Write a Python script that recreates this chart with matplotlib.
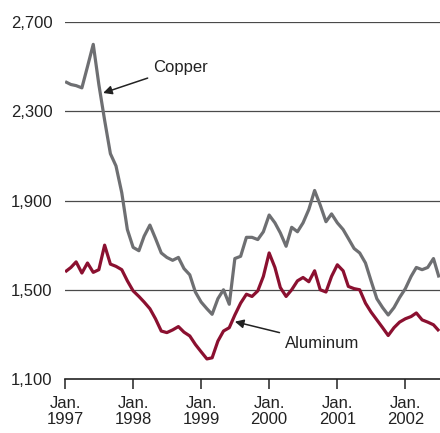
import matplotlib
matplotlib.use("Agg")
import matplotlib.pyplot as plt
import pandas as pd

# Monthly metal prices, Jan. 1997 - Jul. 2002
months = pd.date_range("1997-01-01", periods=67, freq="MS")

copper = [2433, 2420, 2415, 2405, 2500, 2600, 2420, 2260, 2110, 2055,
          1935, 1770, 1690, 1675, 1740, 1790, 1730, 1665, 1645, 1632,
          1645, 1595, 1567, 1490, 1445, 1415, 1390, 1460, 1500, 1435,
          1640, 1650, 1735, 1735, 1725, 1760, 1835, 1800, 1755, 1695,
          1780, 1760, 1800, 1860, 1945, 1880, 1805, 1840, 1800, 1770,
          1730, 1685, 1665, 1620, 1540, 1460, 1420, 1387, 1420, 1465,
          1505, 1560, 1600, 1590, 1600, 1640, 1555]

aluminum = [1580, 1600, 1625, 1575, 1620, 1578, 1590, 1700, 1615, 1605,
            1590, 1540, 1495, 1470, 1445, 1415, 1370, 1315, 1308, 1320,
            1335, 1310, 1293, 1255, 1222, 1190, 1195, 1270, 1315, 1330,
            1387, 1440, 1480, 1470, 1495, 1560, 1665, 1600, 1510, 1470,
            1500, 1540, 1555, 1536, 1585, 1500, 1490, 1560, 1612, 1585,
            1515, 1505, 1500, 1440, 1400, 1365, 1330, 1295, 1330, 1355,
            1370, 1380, 1396, 1365, 1355, 1343, 1315]

years = [1997, 1998, 1999, 2000, 2001, 2002]
y_ticks = [1100, 1500, 1900, 2300, 2700]

plt.rcParams["font.family"] = ["Liberation Sans", "DejaVu Sans"]

fig = plt.figure(figsize=(4.4, 4.33), dpi=100)
ax = fig.add_axes([0.148, 0.1247, 0.852, 0.8244])

copper_color = "#6e6f72"
aluminum_color = "#8b1030"

for v in y_ticks[1:]:
    ax.axhline(v, color="#4a4a4a", lw=0.9, zorder=1)

ax.plot(months, copper, color=copper_color, lw=2.3, zorder=3,
        solid_joinstyle="round", solid_capstyle="butt")
ax.plot(months, aluminum, color=aluminum_color, lw=2.3, zorder=3,
        solid_joinstyle="round", solid_capstyle="butt")

ax.set_xlim(pd.Timestamp("1997-01-01"), pd.Timestamp("2002-07-06"))
ax.set_ylim(1100, 2700)

ax.set_yticks(y_ticks)
ax.set_yticklabels([f"{v:,}" for v in y_ticks], fontsize=12, color="#222222")
ax.tick_params(axis="y", length=0, pad=9)

jan_ticks = [pd.Timestamp(f"{y}-01-01") for y in years]
ax.set_xticks(jan_ticks)
ax.set_xticklabels([f"Jan.\n{y}" for y in years], fontsize=12,
                   color="#222222", linespacing=1.05)
ax.tick_params(axis="x", direction="out", length=7.5, width=1.1,
               color="#222222", pad=5)

for side in ["left", "right", "top"]:
    ax.spines[side].set_visible(False)
ax.spines["bottom"].set_color("#222222")
ax.spines["bottom"].set_linewidth(1.2)

arrow = dict(arrowstyle="-|>", color="#222222", lw=1.1,
             shrinkA=2, shrinkB=0, mutation_scale=13)
ax.annotate("Copper", xy=(pd.Timestamp("1997-07-24"), 2382),
            xytext=(pd.Timestamp("1998-04-18"), 2498),
            fontsize=12, color="#222222", va="center", ha="left",
            arrowprops=arrow)
ax.annotate("Aluminum", xy=(pd.Timestamp("1999-07-01"), 1357),
            xytext=(pd.Timestamp("2000-03-26"), 1261),
            fontsize=12, color="#222222", va="center", ha="left",
            arrowprops=arrow)

fig.savefig("out.png", dpi=100)
